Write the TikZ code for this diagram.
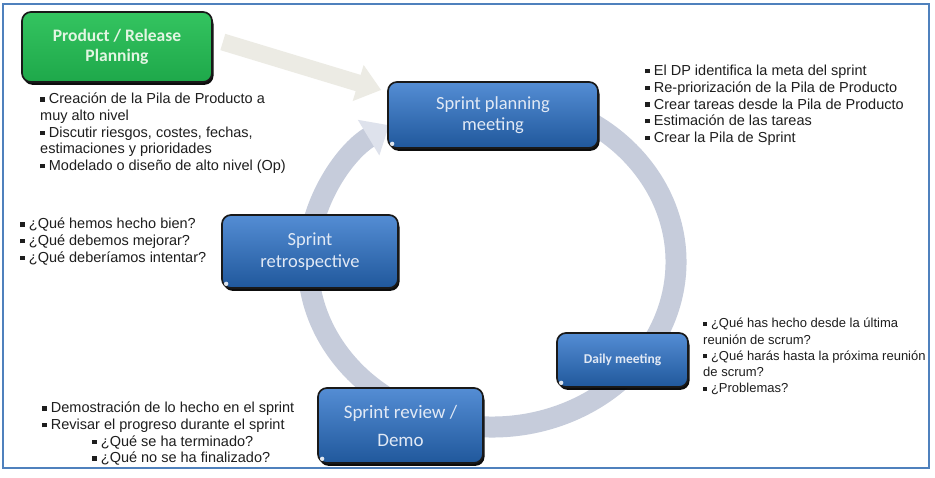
\documentclass[tikz,border=0pt]{standalone}
\usepackage{fontspec}
\setmainfont{Liberation Sans}
\newfontfamily\boxfont{Carlito}
\usetikzlibrary{arrows.meta,shadows}
\definecolor{framecol}{RGB}{79,129,189}
\definecolor{ringcol}{RGB}{198,204,219}
\definecolor{ringtip}{RGB}{222,226,236}
\definecolor{grayarr}{RGB}{236,235,228}
\definecolor{bluetop}{RGB}{84,141,212}
\definecolor{bluebot}{RGB}{32,88,156}
\definecolor{greentop}{RGB}{52,196,96}
\definecolor{greenbot}{RGB}{30,168,74}
\definecolor{boxtxt}{RGB}{225,233,245}
\definecolor{greentxt}{RGB}{226,245,226}
\definecolor{listtxt}{RGB}{30,30,30}
\newcommand\bl{\rule[0.16em]{0.3em}{0.3em}\hspace{0.3em}}
\tikzset{
  boxbase/.style={rounded corners=9pt, draw=black!90, line width=1.7pt,
    align=center, inner sep=0pt, font=\boxfont,
    drop shadow={shadow xshift=1.5pt,shadow yshift=-2.8pt,fill=black,opacity=0.95}},
  bluebox/.style={boxbase, top color=bluetop, bottom color=bluebot, text=boxtxt},
  greenbox/.style={boxbase, top color=greentop, bottom color=greenbot, text=greentxt},
  listtext/.style={anchor=north west, inner sep=0pt, align=left, text=listtxt,
    font=\fontsize{14.5}{16.7}\selectfont},
  highlight/.style={fill=white, opacity=0.85},
}
\begin{document}
\begin{tikzpicture}[x=1pt,y=-1pt]
\useasboundingbox (0,0) rectangle (935,477);
\fill[white] (0,0) rectangle (935,477);
\draw[framecol, line width=1.5pt] (3,4) rectangle (929,468);

% cycle ring
\coordinate (ringc) at (492,262);
\draw[ringcol, line width=21pt, -{Triangle[length=24pt,width=40pt,color=ringtip]}]
  (ringc) ++(-80:184 and 165) arc[start angle=-80, end angle=236, x radius=184, y radius=165];

% boxes
\node[greenbox, minimum width=190pt, minimum height=70pt,
  font=\boxfont\bfseries\fontsize{17.5}{20}\selectfont] (prod) at (117,47) {Product / Release\\Planning};
\node[bluebox, minimum width=210pt, minimum height=66pt,
  font=\boxfont\fontsize{18.5}{21}\selectfont] (plan) at (493,115) {Sprint planning\\meeting};
\node[bluebox, minimum width=176pt, minimum height=73pt,
  font=\boxfont\fontsize{18.5}{22}\selectfont] (retro) at (310,251.5) {Sprint\\retrospective};
\node[bluebox, minimum width=131pt, minimum height=54pt,
  font=\boxfont\bfseries\fontsize{13.5}{16}\selectfont] (daily) at (622.5,360) {Daily meeting};
\node[bluebox, minimum width=165pt, minimum height=75pt,
  font=\boxfont\fontsize{19}{28}\selectfont] (review) at (400.5,425.5) {Sprint review /\\Demo};

\foreach \b in {plan,retro,daily,review}
  \fill[highlight] ([shift={(5,-5)}]\b.south west) circle (2.2pt);

% gray arrow
\draw[grayarr, line width=17pt, -{Triangle[length=24pt,width=36pt]}]
  ([shift={(10,-5)}]prod.east) -- ([shift={(-6,-25)}]plan.west);

% lists
\node[listtext] (prodlist) at (40,93) {\bl Creación de la Pila de Producto a\\muy alto nivel\\\bl Discutir riesgos, costes, fechas,\\estimaciones y prioridades\\\bl Modelado o diseño de alto nivel (Op)};
\node[listtext] (planlist) at (645,65) {\bl El DP identifica la meta del sprint\\\bl Re-priorización de la Pila de Producto\\\bl Crear tareas desde la Pila de Producto\\\bl Estimación de las tareas\\\bl Crear la Pila de Sprint};
\node[listtext] (retrolist) at (20,218) {\bl ¿Qué hemos hecho bien?\\\bl ¿Qué debemos mejorar?\\\bl ¿Qué deberíamos intentar?};
\node[listtext, font=\fontsize{13}{16.3}\selectfont] (dailylist) at (703,318) {\bl ¿Qué has hecho desde la última\\reunión de scrum?\\\bl ¿Qué harás hasta la próxima reunión\\de scrum?\\\bl ¿Problemas?};
\node[listtext] (reviewlist) at (42,402) {\bl Demostración de lo hecho en el sprint\\\bl Revisar el progreso durante el sprint\\\hspace*{50pt}\bl ¿Qué se ha terminado?\\\hspace*{50pt}\bl ¿Qué no se ha finalizado?};
\end{tikzpicture}
\end{document}
